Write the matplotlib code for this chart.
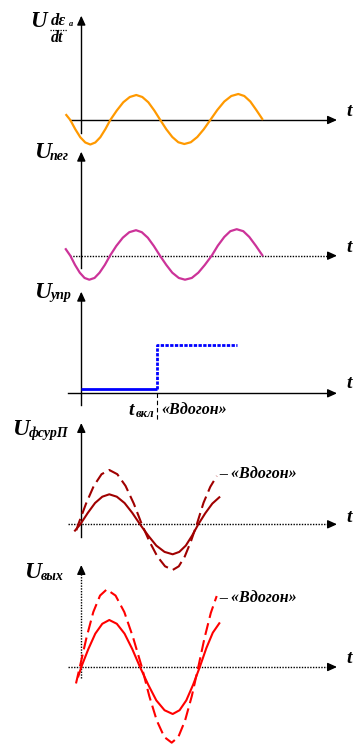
import matplotlib
matplotlib.use("Agg")
import matplotlib.pyplot as plt
from matplotlib.lines import Line2D

# ---------------- data (t in ms, values in relative units) ----------------
# Panel 1: U dε/dt
t1 = [-3.0, -2.2, -1.2, -0.2, 0.8, 1.8, 2.8, 3.8, 4.8, 5.8, 7.1, 8.4, 9.7, 11.0,
      12.2, 13.4, 14.6, 15.8, 17.0, 18.2, 19.4, 20.6, 21.9, 23.2, 24.5, 25.8,
      27.2, 28.6, 30.0, 31.4, 32.6, 33.8, 35.0, 36.2]
u1 = [0.2, 0.0, -0.37, -0.69, -0.9, -0.98, -0.9, -0.69, -0.37, 0.0, 0.38, 0.71, 0.92, 1.0,
      0.92, 0.71, 0.38, 0.0, -0.37, -0.68, -0.89, -0.96, -0.89, -0.68, -0.37, 0.0,
      0.4, 0.74, 0.96, 1.04, 0.96, 0.74, 0.4, 0.04]

# Panel 2: U пег
t2 = [-3.1, -2.2, -1.25, -0.3, 0.65, 1.6, 2.65, 3.65, 4.7, 5.74, 7.0, 8.3, 9.6, 10.94,
      12.1, 13.3, 14.5, 15.74, 17.0, 18.2, 19.5, 20.74, 22.1, 23.4, 24.7, 26.08,
      27.3, 28.6, 29.8, 31.08, 32.4, 33.6, 34.9, 36.2]
u2 = [0.26, 0.0, -0.37, -0.68, -0.89, -0.96, -0.89, -0.68, -0.37, 0.0, 0.39, 0.72, 0.94, 1.02,
      0.94, 0.72, 0.39, 0.0, -0.37, -0.68, -0.89, -0.96, -0.89, -0.68, -0.37, 0.0,
      0.4, 0.75, 0.98, 1.06, 0.98, 0.75, 0.4, 0.02]

# Panel 3: U упр (control step)
t3_low = [0.0, 15.1]
u3_low = [0.095, 0.095]
t3_high = [15.1, 15.1, 31.2]
u3_high = [0.095, 1.0, 1.0]
t_on = 15.1

# Panel 4: U фсурП (solid = normal, dashed = «Вдогон»)
t4 = [-1.26, -0.2, 1.3, 2.75, 4.2, 5.6, 7.1, 8.65, 10.2, 11.74, 13.4, 15.0, 16.65, 18.28,
      19.6, 20.9, 22.15, 23.4, 24.8, 26.2, 27.6]
u4 = [-0.21, 0.0, 0.38, 0.71, 0.92, 1.0, 0.92, 0.71, 0.38, 0.0, -0.38, -0.71, -0.92, -1.0,
      -0.92, -0.71, -0.38, 0.0, 0.37, 0.69, 0.9]
t4d = [-1.0, -0.6, 0.95, 2.5, 4.05, 5.6, 7.2, 8.85, 10.5, 12.1, 13.65, 15.2, 16.75, 18.3,
       19.5, 20.7, 21.9, 23.1, 24.45, 25.8, 27.1]
u4d = [-0.2, 0.0, 0.69, 1.28, 1.67, 1.81, 1.67, 1.28, 0.69, 0.0, -0.58, -1.07, -1.4, -1.52,
       -1.4, -1.07, -0.58, 0.0, 0.72, 1.25, 1.61]

# Panel 5: U вых (solid = normal, dashed = «Вдогон»)
t5 = [-0.6, 0.0, 1.4, 2.8, 4.2, 5.6, 7.1, 8.65, 10.2, 11.74, 13.4, 15.0, 16.65, 18.28,
      19.65, 21.0, 22.35, 23.7, 25.0, 26.3, 27.6]
u5 = [-0.2, 0.0, 0.38, 0.71, 0.92, 1.0, 0.92, 0.71, 0.38, 0.0, -0.38, -0.71, -0.92, -1.0,
      -0.92, -0.71, -0.38, 0.0, 0.4, 0.73, 0.93]
t5d = [-1.06, -0.3, 1.05, 2.4, 3.75, 5.08, 6.85, 8.6, 10.35, 12.1, 13.6, 15.1, 16.6, 18.08,
       19.4, 20.75, 22.1, 23.4, 24.65, 25.9, 27.08]
u5d = [-0.35, 0.0, 0.63, 1.17, 1.52, 1.65, 1.52, 1.17, 0.63, 0.0, -0.62, -1.14, -1.49, -1.61,
       -1.49, -1.14, -0.62, 0.0, 0.62, 1.15, 1.51]

# ---------------- layout ----------------
W, H = 361, 745
fig = plt.figure(figsize=(W / 100, H / 100), dpi=100)
OX = 81.3      # pixel column of the vertical axes
PXT = 5.0      # pixels per ms
FONT = dict(family="Liberation Serif", weight="bold", style="italic")


def make_ax(top, bot, oy, s):
    ax = fig.add_axes([0, 1 - bot / H, 1, (bot - top) / H])
    ax.set_xlim(-OX / PXT, (W - OX) / PXT)
    ax.set_ylim(-(bot - oy) / s, (oy - top) / s)
    ax.axis("off")
    ax.patch.set_alpha(0)
    ax.px = lambda x: (x - OX) / PXT
    ax.py = lambda y: (oy - y) / s
    return ax


def axes_lines(ax, x0, x1, ybot, ytop, xdot=False, ydot=False):
    dot = (0, (1, 1))
    ax.plot([ax.px(x0), ax.px(x1 - 4)], [0, 0], color="k", lw=1.0,
            ls=dot if xdot else "-", clip_on=False)
    ax.plot([0, 0], [ax.py(ybot), ax.py(ytop + 4)], color="k", lw=1.0,
            ls=dot if ydot else "-", clip_on=False)
    ap = dict(arrowstyle="-|>,head_length=0.55,head_width=0.25", color="k", lw=1.0,
              shrinkA=0, shrinkB=0, mutation_scale=10)
    ax.annotate("", xy=(ax.px(x1), 0), xytext=(ax.px(x1 - 8), 0), arrowprops=ap,
                annotation_clip=False)
    ax.annotate("", xy=(0, ax.py(ytop)), xytext=(0, ax.py(ytop + 8)), arrowprops=ap,
                annotation_clip=False)


def ftext(x, y, s, size, **kw):
    fig.text(x / W, 1 - y / H, s, fontsize=size, va="baseline", ha="left", **FONT, **kw)


# Panel 1
ax1 = make_ax(0, 150, 120, 25)
axes_lines(ax1, 70, 337, 133, 15.7)
ax1.plot(t1, u1, color="#FF9900", lw=1.6, clip_on=False)

# Panel 2
ax2 = make_ax(140, 285, 255.7, 25)
axes_lines(ax2, 70, 337, 268, 151.7, xdot=True)
ax2.plot(t2, u2, color="#CC3399", lw=1.6, clip_on=False)

# Panel 3
ax3 = make_ax(285, 425, 393.3, 48.3)
axes_lines(ax3, 68, 337, 405, 291.7)
ax3.plot(t3_low, u3_low, color="#0000FF", lw=2.0, clip_on=False, solid_capstyle="butt")
ax3.plot(t3_high, u3_high, color="#0000FF", lw=2.0, ls=(0, (1.2, 0.5)), clip_on=False)
ax3.plot([t_on, t_on], [0, ax3.py(420)], color="k", lw=0.8, ls=(0, (4, 2.5)), clip_on=False)

# Panel 4
ax4 = make_ax(420, 580, 524.3, 30)
axes_lines(ax4, 68, 337, 537, 423, xdot=True)
ax4.plot(t4, u4, color="#A00000", lw=1.5, clip_on=False)
ax4.plot(t4d, u4d, color="#A00000", lw=1.5, ls=(0, (5.8, 2.6)), clip_on=False)

# Panel 5
ax5 = make_ax(560, 745, 667, 47)
axes_lines(ax5, 68, 337, 678, 565, xdot=True, ydot=True)
ax5.plot(t5, u5, color="#FF0000", lw=1.5, clip_on=False)
ax5.plot(t5d, u5d, color="#FF0000", lw=1.5, ls=(0, (5.8, 2.6)), clip_on=False)

# ---------------- texts ----------------
# t labels
for yb in [116, 251.7, 388.3, 521.7, 663.3]:
    ftext(346, yb, "t", 14)

# Panel 1 label: U dε/dt
ftext(30, 27, "U", 16.5)
ftext(50.5, 25, "dε", 12)
ftext(68.5, 26, "a", 6)
fig.add_artist(Line2D([49.5 / W, 67 / W], [1 - 29.5 / H, 1 - 29.5 / H], color="k",
                      lw=0.9, ls=(0, (1, 1)), transform=fig.transFigure))
ftext(51, 42.5, "dt", 11.5)

# Panel 2 label
ftext(34, 158.5, "U", 17)
ftext(50, 160, "пег", 10)

# Panel 3 labels
ftext(34, 298.5, "U", 17)
ftext(50, 299, "упр", 10)
ftext(128, 415, "t", 14)
ftext(135.5, 417, "вкл", 9)
ftext(161, 413.5, "«Вдогон»", 11.5)

# Panel 4 labels
ftext(12, 435, "U", 17)
ftext(28.5, 436.5, "фсурП", 10)
ftext(219, 477.5, "– «Вдогон»", 11.5)

# Panel 5 labels
ftext(24, 578.5, "U", 17)
ftext(40.5, 580, "вых", 10)
ftext(219, 602.5, "– «Вдогон»", 11.5)

fig.savefig("out.png", dpi=100)
